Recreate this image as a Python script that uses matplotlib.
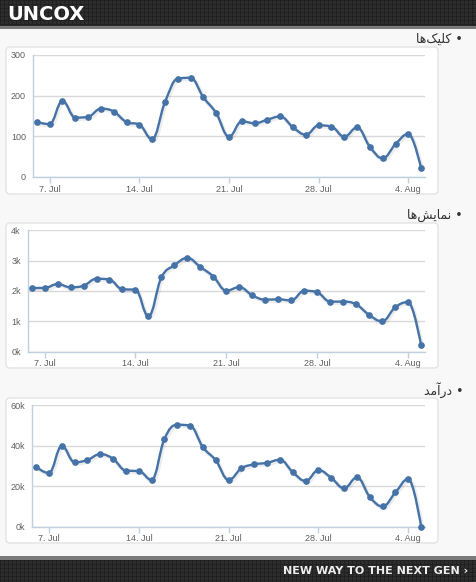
"""
Three Highcharts-style daily panels (clicks, impressions, income)
"""
import numpy as np
import matplotlib
matplotlib.use('Agg')
import matplotlib.pyplot as plt
import matplotlib.dates as mdates
from matplotlib.path import Path
from matplotlib.patches import PathPatch, FancyBboxPatch, Rectangle
import matplotlib.patheffects as pe

# Data
dates = np.arange('2013-07-06', '2013-08-06', dtype='datetime64[D]')
clicks = [135, 130, 187, 146, 148, 168, 161, 135, 129, 93, 184, 242, 244, 196, 157, 99,
          137, 132, 141, 149, 122, 104, 127, 124, 99, 122, 74, 46, 81, 106, 21]
views = [2100, 2100, 2230, 2120, 2175, 2405, 2375, 2055, 2045, 1165, 2450, 2845, 3090, 2790, 2475, 2010,
         2130, 1855, 1715, 1725, 1690, 2010, 1955, 1650, 1650, 1560, 1210, 1000, 1460, 1635, 210]
income = [29500, 26500, 39900, 31800, 33000, 35900, 33500, 27700, 27500, 23100, 43500, 50400, 49900, 39200, 32800, 23100,
          28900, 30800, 31600, 33100, 26900, 22600, 28000, 24100, 19000, 24400, 14700, 10000, 17000, 23600, 0]

# titles already in visual (shaped, left-to-right) order
titles = ['\uFE8E\uFEEB\uFB8F\uFBFF\uFEE0\uFB90',            # clicks
          '\uFE8E\uFEEB\uFEB6\uFBFE\uFE8E\uFEE4\uFEE7',      # impressions
          '\uFEAA\uFEE3\uFE81\uFEAD\uFEA9']                  # income
yticks = [[0, 100, 200, 300], [0, 1000, 2000, 3000, 4000], [0, 20000, 40000, 60000]]
series = [clicks, views, income]

W, H = 476, 582
LINE = '#4572A7'
plt.rcParams['font.family'] = ['Liberation Sans', 'DejaVu Sans']


def spline_path(x, y, smoothing=1.5):
    # same bezier control points highcharts uses for its spline series
    n = len(x)
    verts = [(x[0], y[0])]
    codes = [Path.MOVETO]
    right_prev = (x[0], y[0])
    for i in range(1, n):
        px, py = x[i], y[i]
        if i < n - 1:
            lx, ly = x[i - 1], y[i - 1]
            nx, ny = x[i + 1], y[i + 1]
            d = smoothing + 1
            lcx = (smoothing * px + lx) / d
            lcy = (smoothing * py + ly) / d
            rcx = (smoothing * px + nx) / d
            rcy = (smoothing * py + ny) / d
            corr = (rcy - lcy) * (rcx - px) / (rcx - lcx) + py - rcy
            lcy += corr
            rcy += corr
            if lcy > ly and lcy > py:
                lcy = max(ly, py)
                rcy = 2 * py - lcy
            elif lcy < ly and lcy < py:
                lcy = min(ly, py)
                rcy = 2 * py - lcy
            if rcy > ny and rcy > py:
                rcy = max(ny, py)
                lcy = 2 * py - rcy
            elif rcy < ny and rcy < py:
                rcy = min(ny, py)
                lcy = 2 * py - rcy
        else:
            lcx, lcy, rcx, rcy = px, py, px, py
        verts += [right_prev, (lcx, lcy), (px, py)]
        codes += [Path.CURVE4] * 3
        right_prev = (rcx, rcy)
    return Path(verts, codes)


def ktick(v, pos):
    return '%dk' % (v // 1000)


fig = plt.figure(figsize=(W / 100, H / 100), dpi=100)
fig.patch.set_facecolor('#f8f8f8')

# header / footer bars with small square grid
bg = fig.add_axes([0, 0, 1, 1], zorder=-5)
bg.set_xlim(0, W)
bg.set_ylim(H, 0)
bg.axis('off')
tile = np.full((H, W), 0.18)
tile[::4, :] = 0.13
tile[:, ::4] = 0.13
bar = np.full((H, W, 4), 0.0)
for yy0, yy1 in [(0, 26), (560, 582)]:
    bar[yy0:yy1, :, 0] = tile[yy0:yy1]
    bar[yy0:yy1, :, 1] = tile[yy0:yy1]
    bar[yy0:yy1, :, 2] = tile[yy0:yy1]
    bar[yy0:yy1, :, 3] = 1
bg.imshow(bar, extent=(0, W, H, 0), interpolation='nearest', aspect='auto')
bg.add_patch(Rectangle((0, 26), W, 3, color='#7a7a7a', lw=0))
bg.add_patch(Rectangle((0, 556), W, 4, color='#7a7a7a', lw=0))
bg.text(7, 14, 'UNCOX', color='white', fontsize=14, fontweight='bold',
        family='DejaVu Sans', va='center', ha='left')
bg.text(468, 571, 'NEW WAY TO THE NEXT GEN \u203A', color='#eeeeee', fontsize=8,
        fontweight='bold', family='DejaVu Sans', va='center', ha='right')

# panel boxes and titles
boxes = [(47, 194), (223, 368), (398, 543)]
title_y = [39, 215, 390]
for (t0, t1), ty, ttl in zip(boxes, title_y, titles):
    bg.add_patch(FancyBboxPatch((6, t0), 432, t1 - t0, boxstyle='round,pad=0,rounding_size=4',
                                fc='white', ec='#e3e3e3', lw=1))
    bg.text(463, ty, ttl + ' \u2022', color='#333333', fontsize=9, family=['DejaVu Sans'],
            va='center', ha='right')

# plot areas in pixels: left, top, bottom
areas = [(33, 55, 177), (27.7, 230.3, 351.7), (32.3, 405.3, 526.7)]
xnum = mdates.date2num(dates.astype('datetime64[s]').astype(object))
for k in range(3):
    left, top, bottom = areas[k]
    ax = fig.add_axes([left / W, 1 - bottom / H, (425 - left) / W, (bottom - top) / H])
    ax.set_facecolor('none')
    y = np.array(series[k], dtype=float)
    patch = PathPatch(spline_path(xnum, y), fill=False, ec=LINE, lw=1.7, zorder=3,
                      capstyle='round', joinstyle='round',
                      path_effects=[pe.SimpleLineShadow(offset=(0.8, -1.0), shadow_color='k', alpha=0.07,
                                                        linewidth=3), pe.Normal()])
    ax.add_patch(patch)
    ax.plot(xnum, y, 'o', color=LINE, ms=3.8, mec=LINE, zorder=4, clip_on=False)
    ax.set_xlim(xnum[0] - 0.3, xnum[-1] + 0.3)
    ax.set_ylim(yticks[k][0], yticks[k][-1])
    ax.set_yticks(yticks[k])
    if k > 0:
        ax.yaxis.set_major_formatter(plt.FuncFormatter(ktick))
    ax.xaxis.set_major_locator(mdates.WeekdayLocator(byweekday=mdates.SU))
    ax.xaxis.set_major_formatter(plt.FuncFormatter(
        lambda v, p: '%d. %s' % (mdates.num2date(v).day, mdates.num2date(v).strftime('%b'))))
    ax.grid(axis='y', color='#d9d9d9', lw=1)
    ax.set_axisbelow(True)
    for s in ['top', 'right']:
        ax.spines[s].set_visible(False)
    for s in ['left', 'bottom']:
        ax.spines[s].set_color('#c0d0e0')
        ax.spines[s].set_linewidth(1)
    ax.tick_params(axis='x', colors='#c0d0e0', length=4, width=1, labelcolor='#606060',
                   labelsize=6.5, pad=1.5)
    ax.tick_params(axis='y', length=0, labelcolor='#606060', labelsize=6.5, pad=5)

fig.savefig('out.png', dpi=100)
